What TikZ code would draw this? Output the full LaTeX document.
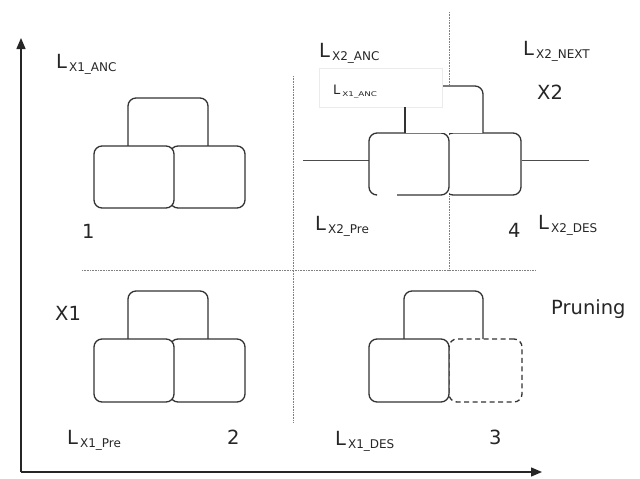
\documentclass[tikz,border=0pt]{standalone}
\usepackage{fontspec}
\setmainfont{DejaVu Sans}
\usetikzlibrary{arrows.meta}
\newcommand{\lab}[1]{L\hspace{2pt}\raisebox{-3pt}{\fontsize{12}{12}\selectfont #1}}
\begin{document}
\begin{tikzpicture}[x=1pt,y=-1pt,
  blk/.style={draw=black!80,line width=1.3pt,rounded corners=8pt,fill=white,inner sep=0pt},
  conn/.style={draw=black!80,line width=1.3pt,rounded corners=8pt},
  dotl/.style={draw=black!50,line width=1pt,dash pattern=on 0.8pt off 0.8pt},
  txt/.style={anchor=base west,inner sep=0pt,text=black!85,font=\fontsize{19.5}{19.5}\selectfont},
  axis/.style={draw=black!85,line width=1.4pt,-{Triangle[length=11pt,width=9pt]}}]
\useasboundingbox (0,0) rectangle (640,479);
% axes
\coordinate (o) at (21,472);
\coordinate (ytop) at (21,38);
\coordinate (xend) at (542,472);
\draw[axis] (o) -- (ytop);
\draw[axis] (o) -- (xend);
% dotted guide lines
\coordinate (v1a) at (293,76); \coordinate (v1b) at (293,423);
\coordinate (v2a) at (449,12); \coordinate (v2b) at (449,270);
\coordinate (ha) at (82,270); \coordinate (hb) at (535,270);
\draw[dotl] (v1a) -- (v1b);
\draw[dotl] (v2a) -- (v2b);
\draw[dotl] (ha) -- (hb);
% group 1
\draw[conn,fill=white] (128,146) -- (128,98) -- (208,98) -- (208,146);
\node[blk,minimum width=75pt,minimum height=62pt] (g1r) at (207.5,177) {};
\node[blk,minimum width=80pt,minimum height=62pt] (g1l) at (134,177) {};
% group 2
\draw[conn,fill=white] (128,339) -- (128,291) -- (208,291) -- (208,339);
\node[blk,minimum width=75pt,minimum height=63pt] (g2r) at (207.5,370.5) {};
\node[blk,minimum width=80pt,minimum height=63pt] (g2l) at (134,370.5) {};
% group 3
\draw[conn,fill=white] (404,339) -- (404,291) -- (483,291) -- (483,339);
\node[blk,dash pattern=on 5pt off 3.5pt,minimum width=73pt,minimum height=63pt] (g3r) at (485.5,370.5) {};
\node[blk,minimum width=80pt,minimum height=63pt] (g3l) at (409,370.5) {};
% group 4
\coordinate (hl1) at (303,160); \coordinate (hl2) at (589,160);
\node[blk,minimum width=76pt,minimum height=62pt] (g4r) at (483,164) {};
\draw[draw=black!70,line width=0.8pt] (hl1) -- (g4r.west |- hl1);
\draw[draw=black!70,line width=0.8pt] (g4r.east |- hl2) -- (hl2);
\fill[white] (369,133) rectangle (449,195);
\draw[conn] (397,195) -- (449,195) -- (449,133) -- (369,133) -- (369,195) -- (376,195);
\node[draw=none,fill=white,minimum width=78pt,minimum height=47pt,inner sep=0pt] (g4u) at (444,109.5) {};
\draw[conn] (405,133) -- (405,86) -- (483,86) -- (483,133);
% label box
\node[fill=white,draw=black!8,line width=0.8pt,minimum width=123pt,minimum height=39pt,inner sep=0pt] (lbox) at (380.5,87.5) {};
\draw[conn] (405,133) -- (405,107);
\node[anchor=base west,inner sep=0pt,text=black!85] (lsmall) at (333,94) {\fontsize{13}{13}\selectfont L\hspace{2pt}\raisebox{-2pt}{\scalebox{1.35}[1]{\fontsize{6.5}{6.5}\selectfont X1\_ANC}}};
% texts
\node[txt] (t1anc) at (56,68) {\lab{X1\_ANC}};
\node[txt] (t2anc) at (319,57) {\lab{X2\_ANC}};
\node[txt] (t2next) at (523,55) {\lab{X2\_NEXT}};
\node[txt] (tx2) at (537,99) {X2};
\node[txt] (t2pre) at (315,230) {\lab{X2\_Pre}};
\node[txt] (t4) at (508,237) {4};
\node[txt] (t2des) at (538,229) {\lab{X2\_DES}};
\node[txt] (t1) at (82,238) {1};
\node[txt] (tx1) at (55,320) {X1};
\node[txt] (t1pre) at (67,444) {\lab{X1\_Pre}};
\node[txt] (t2) at (227,444) {2};
\node[txt] (t1des) at (335,445) {\lab{X1\_DES}};
\node[txt] (t3) at (489,444) {3};
\node[txt] (tpr) at (551,314) {Pruning};
\end{tikzpicture}
\end{document}
